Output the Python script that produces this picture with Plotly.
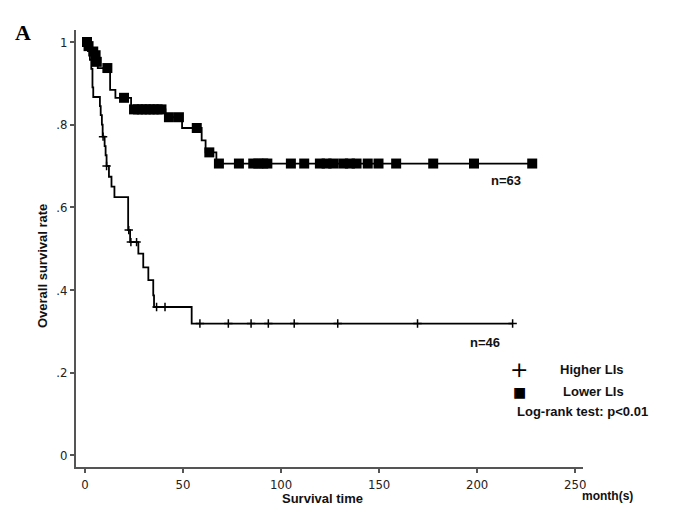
import plotly.graph_objects as go

# Kaplan-Meier steps (month, survival)
higher_t = [0, 1.5, 2.5, 3.2, 3.8, 4.2, 7.6, 8.0, 8.6, 9.0, 10.0, 10.5, 11.0, 12.2,
            13.5, 15.0, 22.0, 23.0, 27.2, 29.7, 32.3, 34.8, 35.2, 54.4, 218.1]
higher_s = [1.0, 0.978, 0.957, 0.935, 0.89, 0.867, 0.845, 0.823, 0.80, 0.771, 0.748,
            0.726, 0.70, 0.674, 0.65, 0.625, 0.545, 0.516, 0.488, 0.455, 0.424, 0.387,
            0.359, 0.319, 0.319]
higher_cens_t = [9.2, 11.0, 22.3, 23.4, 26.3, 36.5, 40.8, 58.6, 73.1, 84.7, 93.5,
                 106.7, 128.9, 169.6, 218.1]
higher_cens_s = [0.771, 0.70, 0.545, 0.516, 0.516, 0.359, 0.359, 0.319, 0.319, 0.319,
                 0.319, 0.319, 0.319, 0.319, 0.319]

lower_t = [0, 2.0, 3.5, 5.0, 6.5, 12.8, 15.5, 23.5, 41.0, 49.5, 59.5, 61.5, 67.0, 228.1]
lower_s = [1.0, 0.984, 0.968, 0.952, 0.937, 0.884, 0.865, 0.837, 0.818, 0.792, 0.762,
           0.733, 0.706, 0.706]
lower_cens_t = [1.0, 1.8, 4.2, 5.4, 6.0, 11.4, 19.9, 25, 27, 29, 31, 33, 35, 37, 39,
                42.8, 47.9, 57.0, 63.4, 68.3, 78.5, 85.8, 88.4, 90.9, 93.0, 105.0,
                111.8, 119.8, 123.2, 126.6, 131.7, 135.1, 138.5, 144.2, 149.7, 158.7,
                177.6, 198.4, 228.1]
lower_cens_s = [1.0, 0.99, 0.977, 0.968, 0.952, 0.937, 0.865, 0.837, 0.837, 0.837,
                0.837, 0.837, 0.837, 0.837, 0.837, 0.818, 0.818, 0.792, 0.733, 0.706,
                0.706, 0.706, 0.706, 0.706, 0.706, 0.706, 0.706, 0.706, 0.706, 0.706,
                0.706, 0.706, 0.706, 0.706, 0.706, 0.706, 0.706, 0.706, 0.706]

x_ticks = [0, 50, 100, 150, 200, 250]
y_ticks = [0, 0.2, 0.4, 0.6, 0.8, 1.0]
y_ticktext = ["0", ".2", ".4", ".6", ".8", "1"]

fig = go.Figure()

fig.add_trace(go.Scatter(x=higher_t, y=higher_s, mode="lines", line_shape="hv",
                         line=dict(color="black", width=1.8), showlegend=False))
fig.add_trace(go.Scatter(x=lower_t, y=lower_s, mode="lines", line_shape="hv",
                         line=dict(color="black", width=1.8), showlegend=False))
fig.add_trace(go.Scatter(x=higher_cens_t, y=higher_cens_s, mode="markers",
                         marker=dict(symbol="cross-thin", size=6,
                                     line=dict(color="black", width=1.5)),
                         showlegend=False))
fig.add_trace(go.Scatter(x=lower_cens_t, y=lower_cens_s, mode="markers",
                         marker=dict(symbol="square", size=10, color="black"),
                         showlegend=False))

axis_font = dict(family="Liberation Sans Narrow, DejaVu Sans Condensed, sans-serif",
                 size=13, color="#222")
lab = dict(family="Liberation Sans, Arial, sans-serif", size=13, color="#111")

fig.update_xaxes(range=[-4.6, 254], tickvals=x_ticks, ticks="outside", ticklen=4,
                 tickcolor="#555", tickwidth=1.5, showline=True, linecolor="#555",
                 linewidth=2, showgrid=False, zeroline=False, tickfont=axis_font)
fig.update_yaxes(range=[-0.028, 1.029], tickvals=y_ticks, ticktext=y_ticktext,
                 ticks="outside", ticklen=4, tickcolor="#555", tickwidth=1.5,
                 showline=True, linecolor="#555", linewidth=2, showgrid=False,
                 zeroline=False, tickfont=axis_font)

anns = [
    dict(text="<b>A</b>", x=-0.104, y=0.995, xref="paper", yref="paper",
         font=dict(family="Liberation Serif, serif", size=22, color="black")),
    dict(text="<b>Overall survival rate</b>", x=-0.065, y=0.46, xref="paper",
         yref="paper", textangle=-90, font=lab),
    dict(text="<b>Survival time</b>", x=0.487, y=-0.073, xref="paper", yref="paper",
         font=lab),
    dict(text="<b>month(s)</b>", x=1.049, y=-0.066, xref="paper", yref="paper",
         font=dict(family="Liberation Sans Narrow, Liberation Sans, sans-serif",
                   size=12, color="#111")),
    dict(text="<b>n=63</b>", x=214.9, y=0.666, xref="x", yref="y", font=lab),
    dict(text="<b>n=46</b>", x=204, y=0.274, xref="x", yref="y", font=lab),
    dict(text="+", x=0.874, y=0.222, xref="paper", yref="paper",
         font=dict(family="DejaVu Sans", size=22, color="black")),
    dict(text="<b>Higher LIs</b>", x=0.951, y=0.222, xref="paper", yref="paper",
         xanchor="left", font=lab),
    dict(text="■", x=0.874, y=0.172, xref="paper", yref="paper",
         font=dict(family="DejaVu Sans", size=14, color="black")),
    dict(text="<b>Lower LIs</b>", x=0.957, y=0.172, xref="paper", yref="paper",
         xanchor="left", font=lab),
    dict(text="<b>Log-rank test: p<0.01</b>", x=0.866, y=0.126, xref="paper",
         yref="paper", xanchor="left", font=lab),
]
for a in anns:
    a.setdefault("showarrow", False)
    a.setdefault("xanchor", "center")
    a.setdefault("yanchor", "middle")
    fig.add_annotation(**a)

# page body adds 8px on the top-left, so the figure is 8px smaller
fig.update_layout(width=680, height=521, plot_bgcolor="white", paper_bgcolor="white",
                  margin=dict(l=68, r=105, t=22, b=62))

fig.write_html("out.html")
